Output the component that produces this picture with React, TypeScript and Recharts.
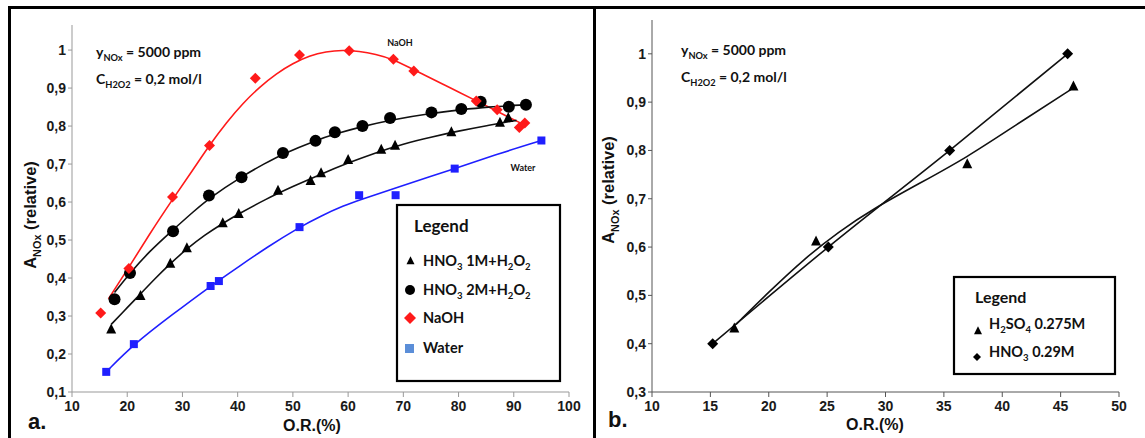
import React from 'react';
import { ComposedChart, Line, Scatter, XAxis, YAxis } from 'recharts';

// ---------- Panel a: measured points ----------
const hno3_1M_points = [
  { x: 17.1, y: 0.265 }, { x: 22.4, y: 0.353 }, { x: 27.8, y: 0.438 }, { x: 30.8, y: 0.479 },
  { x: 37.3, y: 0.545 }, { x: 40.2, y: 0.569 }, { x: 47.3, y: 0.630 }, { x: 53.2, y: 0.656 },
  { x: 55.1, y: 0.676 }, { x: 60.0, y: 0.711 }, { x: 66.0, y: 0.738 }, { x: 68.5, y: 0.749 },
  { x: 78.7, y: 0.784 }, { x: 87.5, y: 0.809 }, { x: 89.0, y: 0.822 },
];
const hno3_2M_points = [
  { x: 17.7, y: 0.344 }, { x: 20.5, y: 0.413 }, { x: 28.3, y: 0.523 }, { x: 34.8, y: 0.617 },
  { x: 40.7, y: 0.665 }, { x: 48.2, y: 0.729 }, { x: 54.1, y: 0.761 }, { x: 57.6, y: 0.784 },
  { x: 62.6, y: 0.800 }, { x: 67.6, y: 0.821 }, { x: 75.1, y: 0.836 }, { x: 80.5, y: 0.845 },
  { x: 84.0, y: 0.864 }, { x: 89.1, y: 0.851 }, { x: 92.2, y: 0.856 },
];
const naoh_points = [
  { x: 15.2, y: 0.308 }, { x: 20.3, y: 0.425 }, { x: 28.2, y: 0.613 }, { x: 34.9, y: 0.749 },
  { x: 43.2, y: 0.926 }, { x: 51.2, y: 0.987 }, { x: 60.2, y: 0.998 }, { x: 68.2, y: 0.976 },
  { x: 71.9, y: 0.945 }, { x: 83.2, y: 0.866 }, { x: 87.0, y: 0.843 }, { x: 91.0, y: 0.796 },
  { x: 92.0, y: 0.808 },
];
const water_points = [
  { x: 16.2, y: 0.153 }, { x: 21.2, y: 0.226 }, { x: 35.1, y: 0.379 }, { x: 36.6, y: 0.392 },
  { x: 51.2, y: 0.534 }, { x: 62.0, y: 0.618 }, { x: 68.6, y: 0.618 }, { x: 79.3, y: 0.688 },
  { x: 95.0, y: 0.762 },
];

// ---------- Panel a: fitted curves ----------
const hno3_1M_curve = [
  { x: 17.1, y: 0.278 }, { x: 20, y: 0.322 }, { x: 22.4, y: 0.358 }, { x: 25, y: 0.398 },
  { x: 27.8, y: 0.438 }, { x: 30.8, y: 0.477 }, { x: 34, y: 0.513 }, { x: 37.3, y: 0.544 },
  { x: 40.2, y: 0.569 }, { x: 45, y: 0.607 }, { x: 50, y: 0.641 }, { x: 55, y: 0.673 },
  { x: 60, y: 0.703 }, { x: 65, y: 0.730 }, { x: 70, y: 0.753 }, { x: 75, y: 0.771 },
  { x: 80, y: 0.787 }, { x: 85, y: 0.801 }, { x: 90.5, y: 0.815 },
];
const hno3_2M_curve = [
  { x: 17.7, y: 0.362 }, { x: 20.5, y: 0.413 }, { x: 24, y: 0.47 }, { x: 28.3, y: 0.527 },
  { x: 32, y: 0.575 }, { x: 35, y: 0.612 }, { x: 40.7, y: 0.667 }, { x: 45, y: 0.702 },
  { x: 48.2, y: 0.727 }, { x: 54.1, y: 0.762 }, { x: 57.6, y: 0.779 }, { x: 62.6, y: 0.799 },
  { x: 67.6, y: 0.816 }, { x: 75.1, y: 0.834 }, { x: 80.5, y: 0.843 }, { x: 85, y: 0.85 },
  { x: 92.2, y: 0.856 },
];
const naoh_curve = [
  { x: 16.6, y: 0.345 }, { x: 20.3, y: 0.428 }, { x: 24, y: 0.515 }, { x: 28.2, y: 0.607 },
  { x: 32, y: 0.687 }, { x: 35, y: 0.752 }, { x: 38, y: 0.810 }, { x: 41, y: 0.861 },
  { x: 44, y: 0.903 }, { x: 47, y: 0.938 }, { x: 50, y: 0.965 }, { x: 53, y: 0.985 },
  { x: 56, y: 0.996 }, { x: 59, y: 1.0 }, { x: 62, y: 0.997 }, { x: 65, y: 0.989 },
  { x: 68, y: 0.976 }, { x: 71, y: 0.955 }, { x: 74, y: 0.933 }, { x: 77, y: 0.911 },
  { x: 80, y: 0.890 }, { x: 83, y: 0.868 }, { x: 86, y: 0.846 }, { x: 89, y: 0.824 },
  { x: 91.5, y: 0.806 },
];
const water_curve = [
  { x: 16.2, y: 0.153 }, { x: 21.2, y: 0.226 }, { x: 28, y: 0.302 }, { x: 35.1, y: 0.379 },
  { x: 40, y: 0.428 }, { x: 45.4, y: 0.482 }, { x: 51.2, y: 0.534 }, { x: 55, y: 0.563 },
  { x: 59.3, y: 0.591 }, { x: 62, y: 0.605 }, { x: 68.6, y: 0.637 }, { x: 79.3, y: 0.688 },
  { x: 87, y: 0.726 }, { x: 95, y: 0.762 },
];

// ---------- Panel b ----------
const h2so4_points = [
  { x: 17.05, y: 0.432 }, { x: 24.05, y: 0.612 }, { x: 37.0, y: 0.772 }, { x: 46.1, y: 0.933 },
];
const h2so4_curve = [
  { x: 17.2, y: 0.44 }, { x: 20, y: 0.507 }, { x: 23, y: 0.575 }, { x: 26, y: 0.632 },
  { x: 29, y: 0.68 }, { x: 33, y: 0.733 }, { x: 37, y: 0.786 }, { x: 41, y: 0.85 },
  { x: 46, y: 0.928 },
];
const hno3_029_points = [
  { x: 15.2, y: 0.4 }, { x: 25.1, y: 0.6 }, { x: 35.5, y: 0.8 }, { x: 45.6, y: 1.0 },
];

// ---------- Tick labels ----------
const xTicksA = [10, 20, 30, 40, 50, 60, 70, 80, 90, 100];
const yTicksA = [0.1, 0.2, 0.3, 0.4, 0.5, 0.6, 0.7, 0.8, 0.9, 1];
const xTicksB = [10, 15, 20, 25, 30, 35, 40, 45, 50];
const yTicksB = [0.3, 0.4, 0.5, 0.6, 0.7, 0.8, 0.9, 1];

const ARIAL = "'Liberation Sans', Arial, sans-serif";
const CAL = "Lato, 'Open Sans', sans-serif";
const RED = '#ff1a1a';
const BLUE = '#1f1fff';
const LBLUE = '#5b8ed8';

const fmtY = (v: number) => (Math.abs(v - 1) < 1e-9 ? '1' : v.toFixed(1).replace('.', ','));
const tickStyle = { fontFamily: ARIAL, fontWeight: 700, fontSize: 14, fill: '#1a1a1a' };

const tri = (cx: number, cy: number, s: number) =>
  `M${cx},${cy - s * 0.58} L${cx + s / 2},${cy + s * 0.42} L${cx - s / 2},${cy + s * 0.42} Z`;
const dia = (cx: number, cy: number, r: number) =>
  `M${cx},${cy - r} L${cx + r},${cy} L${cx},${cy + r} L${cx - r},${cy} Z`;

const TriShape = (s: number) => (p: any) => <path d={tri(p.cx, p.cy, s)} fill="#000" />;
const DiaShape = (r: number, c: string) => (p: any) => <path d={dia(p.cx, p.cy, r)} fill={c} />;
const CircShape = (r: number) => (p: any) => <circle cx={p.cx} cy={p.cy} r={r} fill="#000" />;
const SqShape = (s: number, c: string) => (p: any) => (
  <rect x={p.cx - s / 2} y={p.cy - s / 2} width={s} height={s} fill={c} />
);

type Part = [string, boolean];
function Rich({ x, y, size, parts, anchor, family, rotate, weight }: any) {
  let prevSub = false;
  const kids = (parts as Part[]).map(([t, sub], i) => {
    let dy = 0;
    if (sub && !prevSub) dy = size * 0.28;
    if (!sub && prevSub) dy = -size * 0.28;
    prevSub = sub;
    return (
      <tspan key={i} dy={dy} fontSize={sub ? size * 0.66 : size}>
        {t}
      </tspan>
    );
  });
  return (
    <text
      x={x}
      y={y}
      fontSize={size}
      fontWeight={weight ?? 700}
      fontFamily={family ?? CAL}
      textAnchor={anchor ?? 'start'}
      fill="#111"
      transform={rotate ? `rotate(-90, ${x}, ${y})` : undefined}
    >
      {kids}
    </text>
  );
}

function PanelA() {
  return (
    <ComposedChart width={597} height={438} margin={{ top: 25, right: 28, bottom: 16, left: 32 }}>
      <XAxis
        type="number"
        dataKey="x"
        domain={[10, 100]}
        ticks={xTicksA}
        allowDataOverflow
        height={30}
        tick={tickStyle}
        tickSize={5}
        tickMargin={4}
        stroke="#999"
        tickLine={{ stroke: '#999' }}
      />
      <YAxis
        type="number"
        dataKey="y"
        domain={[0.1, 1.066]}
        ticks={yTicksA}
        allowDataOverflow
        width={40}
        tick={tickStyle}
        tickFormatter={fmtY}
        tickSize={4}
        tickMargin={2}
        stroke="#999"
        tickLine={{ stroke: '#999' }}
      />
      <Line data={naoh_curve} dataKey="y" type="basis" stroke={RED} strokeWidth={1.6} dot={false} isAnimationActive={false} />
      <Line data={hno3_2M_curve} dataKey="y" type="basis" stroke="#111" strokeWidth={1.6} dot={false} isAnimationActive={false} />
      <Line data={hno3_1M_curve} dataKey="y" type="basis" stroke="#111" strokeWidth={1.6} dot={false} isAnimationActive={false} />
      <Line data={water_curve} dataKey="y" type="basis" stroke={BLUE} strokeWidth={1.6} dot={false} isAnimationActive={false} />
      <Scatter data={hno3_2M_points} shape={CircShape(6)} isAnimationActive={false} />
      <Scatter data={hno3_1M_points} shape={TriShape(10)} isAnimationActive={false} />
      <Scatter data={water_points} shape={SqShape(8, BLUE)} isAnimationActive={false} />
      <Scatter data={naoh_points} shape={DiaShape(5.5, RED)} isAnimationActive={false} />

      <Rich x={96} y={57} size={14} parts={[['y', false], ['NOx', true], [' = 5000 ppm', false]]} />
      <Rich x={96} y={84} size={14} parts={[['C', false], ['H2O2', true], [' = 0,2 mol/l', false]]} />
      <text x={400} y={46} fontSize={9} fontWeight={700} fontFamily={CAL} textAnchor="middle" fill="#111">NaOH</text>
      <text x={523} y={171} fontSize={9} fontWeight={700} fontFamily={CAL} textAnchor="middle" fill="#111">Water</text>
      <Rich x={36} y={215} size={16.5} family={ARIAL} anchor="middle" rotate parts={[['A', false], ['NOx', true], [' (relative)', false]]} />
      <text x={312} y={431} fontSize={16} fontWeight={700} fontFamily={ARIAL} textAnchor="middle" fill="#111">O.R.(%)</text>
      <text x={28} y={429} fontSize={22} fontWeight={700} fontFamily={ARIAL} fill="#111">a.</text>

      <rect x={397} y={205} width={163} height={176} fill="#fff" stroke="#000" strokeWidth={2.2} />
      <text x={414} y={232} fontSize={17} fontWeight={700} fontFamily={CAL} fill="#111">Legend</text>
      <path d={tri(410.5, 261, 8)} fill="#000" />
      <Rich x={423} y={266} size={14.5} parts={[['HNO', false], ['3', true], [' 1M+H', false], ['2', true], ['O', false], ['2', true]]} />
      <circle cx={410} cy={290} r={5} fill="#000" />
      <Rich x={423} y={295} size={14.5} parts={[['HNO', false], ['3', true], [' 2M+H', false], ['2', true], ['O', false], ['2', true]]} />
      <path d={dia(410, 318, 6)} fill={RED} />
      <Rich x={423} y={323} size={14.5} parts={[['NaOH', false]]} />
      <rect x={405} y={344} width={9} height={9} fill={LBLUE} />
      <Rich x={423} y={353} size={14.5} parts={[['Water', false]]} />
    </ComposedChart>
  );
}

function PanelB() {
  return (
    <ComposedChart width={548} height={438} margin={{ top: 20, right: 26, bottom: 16, left: 15 }}>
      <XAxis
        type="number"
        dataKey="x"
        domain={[10, 50]}
        ticks={xTicksB}
        allowDataOverflow
        height={30}
        tick={tickStyle}
        tickSize={5}
        tickMargin={4}
        stroke="#555"
        tickLine={{ stroke: '#555' }}
      />
      <YAxis
        type="number"
        dataKey="y"
        domain={[0.3, 1.07]}
        ticks={yTicksB}
        allowDataOverflow
        width={40}
        tick={tickStyle}
        tickFormatter={fmtY}
        tickSize={4}
        tickMargin={2}
        stroke="#555"
        tickLine={{ stroke: '#555' }}
      />
      <Line data={hno3_029_points} dataKey="y" type="monotone" stroke="#111" strokeWidth={1.6} dot={false} isAnimationActive={false} />
      <Line data={h2so4_curve} dataKey="y" type="basis" stroke="#111" strokeWidth={1.6} dot={false} isAnimationActive={false} />
      <Scatter data={h2so4_points} shape={TriShape(10)} isAnimationActive={false} />
      <Scatter data={hno3_029_points} shape={DiaShape(5.5, '#000')} isAnimationActive={false} />

      <Rich x={84} y={55} size={14} parts={[['y', false], ['NOx', true], [' = 5000 ppm', false]]} />
      <Rich x={84} y={82} size={14} parts={[['C', false], ['H2O2', true], [' = 0,2 mol/l', false]]} />
      <Rich x={17} y={190} size={16.5} family={ARIAL} anchor="middle" rotate parts={[['A', false], ['NOx', true], [' (relative)', false]]} />
      <text x={278} y={430} fontSize={16} fontWeight={700} fontFamily={ARIAL} textAnchor="middle" fill="#111">O.R.(%)</text>
      <text x={11} y={427} fontSize={22} fontWeight={700} fontFamily={ARIAL} fill="#111">b.</text>

      <rect x={357} y={277} width={161} height={97} fill="#fff" stroke="#000" strokeWidth={2.2} />
      <text x={378} y={303} fontSize={16} fontWeight={700} fontFamily={CAL} fill="#111">Legend</text>
      <path d={tri(381, 331, 8)} fill="#000" />
      <Rich x={392} y={329} size={14.5} parts={[['H', false], ['2', true], ['SO', false], ['4', true], [' 0.275M', false]]} />
      <path d={dia(380, 357, 4)} fill="#000" />
      <Rich x={392} y={357} size={14.5} parts={[['HNO', false], ['3', true], [' 0.29M', false]]} />
    </ComposedChart>
  );
}

export default function App() {
  return (
    <div style={{ position: 'absolute', left: 0, top: 0, width: 1145, height: 438, background: '#fff', overflow: 'hidden' }}>
      <div style={{ position: 'absolute', left: 0, top: 0 }}>
        <PanelA />
      </div>
      <div style={{ position: 'absolute', left: 597, top: 0 }}>
        <PanelB />
      </div>
      <div style={{ position: 'absolute', left: 8, top: 6, width: 1137, height: 3, background: '#000' }} />
      <div style={{ position: 'absolute', left: 8, top: 6, width: 3, height: 432, background: '#000' }} />
      <div style={{ position: 'absolute', left: 593, top: 6, width: 3, height: 432, background: '#000' }} />
    </div>
  );
}
